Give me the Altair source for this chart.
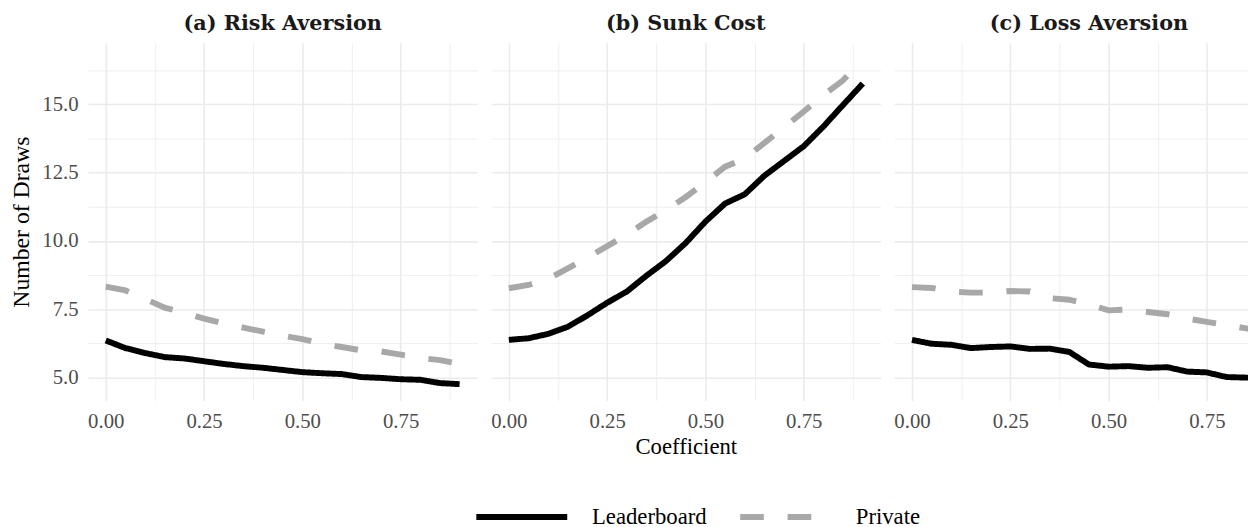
import altair as alt
import pandas as pd

coef = [0.00, 0.05, 0.10, 0.15, 0.20, 0.25, 0.30, 0.35, 0.40, 0.45,
        0.50, 0.55, 0.60, 0.65, 0.70, 0.75, 0.80, 0.85, 0.90]

ra_leader = [6.36, 6.08, 5.90, 5.75, 5.70, 5.60, 5.50, 5.42, 5.36, 5.28,
             5.20, 5.16, 5.13, 5.02, 4.99, 4.94, 4.92, 4.80, 4.76]
ra_private = [8.33, 8.19, 7.88, 7.56, 7.37, 7.16, 6.98, 6.83, 6.68, 6.53,
              6.41, 6.24, 6.12, 6.00, 5.96, 5.84, 5.72, 5.64, 5.50]

sc_leader = [6.38, 6.44, 6.60, 6.86, 7.28, 7.74, 8.15, 8.73, 9.27, 9.93,
             10.71, 11.37, 11.71, 12.39, 12.93, 13.47, 14.19, 14.98, 15.76]
sc_private = [8.27, 8.39, 8.61, 9.00, 9.39, 9.81, 10.23, 10.71, 11.13, 11.61,
              12.15, 12.72, 13.02, 13.59, 14.16, 14.74, 15.34, 15.88, 16.66]

la_leader = [6.38, 6.24, 6.20, 6.08, 6.12, 6.14, 6.05, 6.06, 5.94, 5.48,
             5.40, 5.42, 5.36, 5.38, 5.22, 5.19, 5.02, 5.00, 4.98]
la_private = [8.31, 8.28, 8.15, 8.11, 8.11, 8.17, 8.15, 7.91, 7.85, 7.68,
              7.46, 7.49, 7.40, 7.32, 7.16, 7.04, 6.92, 6.80, 6.68]

panels = ["(a) Risk Aversion", "(b) Sunk Cost", "(c) Loss Aversion"]
series = ["Leaderboard", "Private"]
series_colors = ["#000000", "#A8A8A8"]

x_ticks = [0.0, 0.125, 0.25, 0.375, 0.5, 0.625, 0.75, 0.875]
y_ticks = [5.0, 6.25, 7.5, 8.75, 10.0, 11.25, 12.5, 13.75, 15.0, 16.25]

rows = []
for p, lead, priv in zip(panels, [ra_leader, sc_leader, la_leader],
                         [ra_private, sc_private, la_private]):
    for c, l, v in zip(coef, lead, priv):
        rows.append({"panel": p, "coef": c, "type": "Leaderboard", "draws": l})
        rows.append({"panel": p, "coef": c, "type": "Private", "draws": v})
df = pd.DataFrame(rows)

FONT = "Liberation Serif"
HFONT = "DejaVu Serif"
GRID = "#EBEBEB"

all_y = ra_leader + ra_private + sc_leader + sc_private + la_leader + la_private
ypad = 0.05 * (max(all_y) - min(all_y))
ydom = [min(all_y) - ypad, max(all_y) + ypad]
xpad = 0.05 * (max(coef) - min(coef))
xdom_full = [min(coef) - xpad, max(coef) + xpad]

PANEL_W = 394
PANEL_H = 362
C_W = 358
ppu = PANEL_W / (xdom_full[1] - xdom_full[0])
xdom_c = [xdom_full[0], xdom_full[0] + C_W / ppu]

legend = alt.Legend(
    orient="none", legendX=390, legendY=431, direction="horizontal",
    title=None, symbolType="stroke", symbolSize=8464, symbolStrokeWidth=6,
    labelFont=FONT, labelFontSize=23, labelColor="#000000",
    labelOffset=22, columnPadding=21,
)


def panel(name, xdom, width, show_y, show_xtitle, title_dx):
    xv = [v for v in x_ticks if xdom[0] <= v <= xdom[1]]
    x_axis = alt.Axis(
        values=xv,
        labelExpr="round(datum.value * 8) % 2 == 0 ? format(datum.value, '.2f') : ''",
        grid=True, gridColor=GRID,
        gridWidth={"condition": {"test": "round(datum.value * 8) % 2 == 0", "value": 1.6}, "value": 0.8},
        ticks=False, domain=False,
        labelFont=FONT, labelFontSize=21, labelColor="#4D4D4D", labelPadding=10,
        title="Coefficient" if show_xtitle else None,
        titleFont=FONT, titleFontSize=23, titleFontWeight="normal", titleColor="#000000",
        titlePadding=5,
    )
    y_axis = alt.Axis(
        values=y_ticks,
        labelExpr="round(datum.value * 4) % 10 == 0 ? format(datum.value, '.1f') : ''",
        grid=True, gridColor=GRID,
        gridWidth={"condition": {"test": "round(datum.value * 4) % 10 == 0", "value": 1.6}, "value": 0.8},
        ticks=False, domain=False, labels=show_y,
        labelFont=FONT, labelFontSize=21, labelColor="#4D4D4D", labelPadding=10,
        title="Number of Draws" if show_y else None,
        titleFont=FONT, titleFontSize=24, titleFontWeight="normal", titleColor="#000000",
        titlePadding=8,
    )
    return alt.Chart(df[df["panel"] == name]).mark_line(
        strokeWidth=6, clip=True, strokeCap="butt"
    ).encode(
        x=alt.X("coef:Q", scale=alt.Scale(domain=xdom, nice=False, zero=False), axis=x_axis),
        y=alt.Y("draws:Q", scale=alt.Scale(domain=ydom, nice=False, zero=False), axis=y_axis),
        color=alt.Color("type:N", scale=alt.Scale(domain=series, range=series_colors), legend=legend),
        strokeDash=alt.StrokeDash("type:N", scale=alt.Scale(domain=series, range=[[1, 0], [24, 24]]), legend=legend),
    ).properties(
        width=width, height=PANEL_H,
        title=alt.TitleParams(name, font=HFONT, fontSize=21, fontWeight="bold",
                              color="#1A1A1A", anchor="middle", offset=9, dx=title_dx),
    )


a = panel(panels[0], xdom_full, PANEL_W, True, False, 0)
b = panel(panels[1], xdom_full, PANEL_W, False, True, 0)
c = panel(panels[2], xdom_c, C_W, False, False, (PANEL_W - C_W) / 2)

chart = alt.hconcat(a, b, c, spacing=14, bounds="flush").properties(
    padding={"left": 2, "top": 2, "right": 0, "bottom": 0},
    background="white",
).configure_view(stroke=None)

chart.save("out.html", embed_options={"renderer": "svg", "actions": False})
